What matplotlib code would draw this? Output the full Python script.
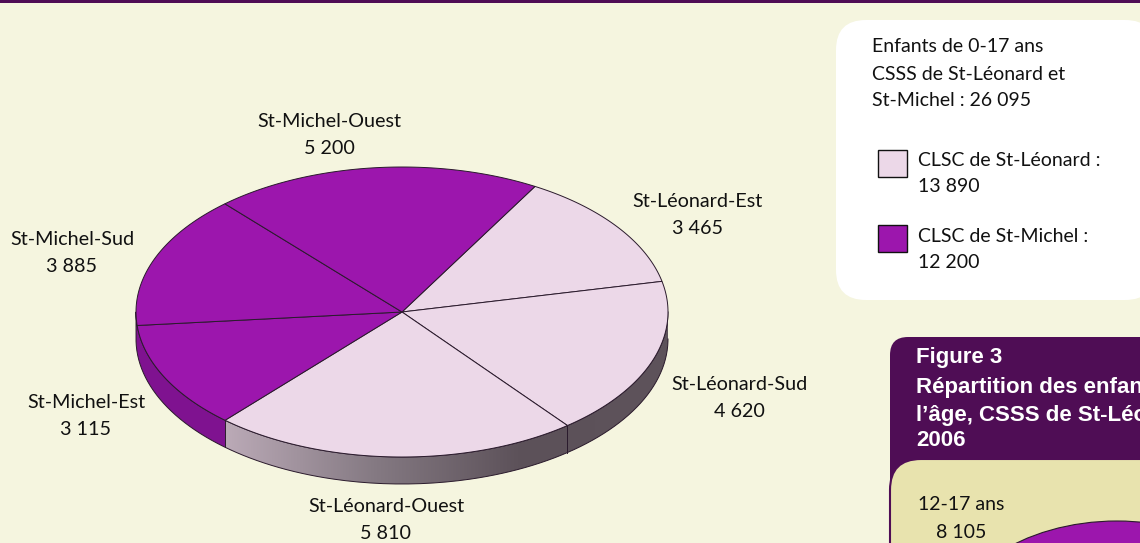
import numpy as np
import matplotlib
matplotlib.use("Agg")
import matplotlib.pyplot as plt
from matplotlib.patches import FancyBboxPatch, Polygon, Ellipse, Rectangle
from matplotlib.colors import LinearSegmentedColormap

names = ["St-Léonard-Est", "St-Léonard-Sud", "St-Léonard-Ouest",
         "St-Michel-Est", "St-Michel-Sud", "St-Michel-Ouest"]
values = [3465, 4620, 5810, 3115, 3885, 5200]
value_labels = ["3 465", "4 620", "5 810", "3 115", "3 885", "5 200"]
label_x = [697, 739, 386, 86, 72, 329]
label_y = [215, 398, 520, 416, 253, 135]
legend_lines = ["Enfants de 0-17 ans", "CSSS de St-Léonard et", "St-Michel : 26 095"]

LIGHT = "#ECD8E8"
PURPLE = "#9C16AD"
DARK = "#4F0D55"
BG = "#F5F5DF"
PANEL = "#E8E3AE"
EDGE = "#2A1A2C"
FS = 14.2

cx, cy, rx, ry, depth = 402, 312, 266, 145, 27
start = 30  # degrees clockwise from the top


def rim(a):
    a = np.radians(a)
    return cx + rx * np.sin(a), cy - ry * np.cos(a)


plt.rcParams["font.family"] = ["Lato", "DejaVu Sans"]
fig = plt.figure(figsize=(11.4, 5.43), dpi=100, facecolor=BG)
ax = fig.add_axes([0, 0, 1, 1])

ax.add_patch(Rectangle((0, 0), 1140, 2.5, fc=DARK, ec="none"))

# pie side, only the front half shows
edges = start + np.cumsum([0] + values) / sum(values) * 360
side = np.linspace(90, 270, 200)
xs, ys = rim(side)
side_poly = np.r_[np.c_[xs, ys], np.c_[xs[::-1], ys[::-1] + depth]]
grad = LinearSegmentedColormap.from_list("side", ["#BBAAB7", "#857A83", "#5C5159", "#5E535B"])
clip = Polygon(side_poly, closed=True, fc="none", ec="none")
ax.add_patch(clip)
im = ax.imshow(np.linspace(0, 1, 256)[None, :], cmap=grad, aspect="auto",
               extent=[rim(edges[3])[0], 670, 490, 280], zorder=1)
im.set_clip_path(clip)

# purple part of the side, St-Michel-Est
arc = np.linspace(edges[3], 270, 60)
xs, ys = rim(arc)
ax.add_patch(Polygon(np.r_[np.c_[xs, ys], np.c_[xs[::-1], ys[::-1] + depth]], closed=True,
                     fc="#7F1290", ec="none", zorder=2))

xs, ys = rim(side)
ax.plot(np.r_[xs, xs[::-1]], np.r_[ys, ys[::-1] + depth], color=EDGE, lw=0.7, zorder=3)
for a in [edges[2], edges[3]]:
    x, y = rim(a)
    ax.plot([x, x], [y, y + depth], color=EDGE, lw=0.7, zorder=3)

# pie top
for i in range(len(values)):
    arc = np.linspace(edges[i], edges[i + 1], 80)
    xs, ys = rim(arc)
    ax.add_patch(Polygon(np.r_[[[cx, cy]], np.c_[xs, ys]], closed=True,
                         fc=LIGHT if i < 3 else PURPLE, ec=EDGE, lw=0.7, zorder=4))

for n, v, x, y in zip(names, value_labels, label_x, label_y):
    ax.text(x, y, n + "\n" + v, ha="center", va="center", fontsize=FS, color="#111111",
            linespacing=1.65, zorder=5)

# legend box
ax.add_patch(FancyBboxPatch((866, 50), 259, 220, boxstyle="round,pad=30,rounding_size=30",
                            fc="white", ec="none", zorder=1))
for i, line in enumerate(legend_lines):
    ax.text(872, 47 + i * 27, line, va="center", fontsize=14, color="#111111")
ax.add_patch(Rectangle((878, 150), 29, 27, fc=LIGHT, ec="#111111", lw=1))
ax.add_patch(Rectangle((878, 225), 29, 27, fc=PURPLE, ec="#111111", lw=1))
ax.text(918, 161, "CLSC de St-Léonard :", va="center", fontsize=14, color="#111111")
ax.text(918, 187, "13 890", va="center", fontsize=14, color="#111111")
ax.text(918, 236, "CLSC de St-Michel :", va="center", fontsize=14, color="#111111")
ax.text(918, 263, "12 200", va="center", fontsize=14, color="#111111")

# figure 3 panel, cut off by the page edge
ax.add_patch(FancyBboxPatch((908, 355), 400, 300, boxstyle="round,pad=18,rounding_size=18",
                            fc=DARK, ec="none", zorder=1))
ax.add_patch(FancyBboxPatch((921, 490), 400, 200, boxstyle="round,pad=31,rounding_size=31",
                            fc=PANEL, ec=DARK, lw=1.5, zorder=2))
title_lines = ["Figure 3", "Répartition des enfants selon", "l’âge, CSSS de St-Léonard et St-Michel,", "2006"]
title_y = [358, 388, 415, 440]
for t, y in zip(title_lines, title_y):
    ax.text(916, y, t, va="center", fontsize=16, fontweight="bold", color="white",
            family=["Liberation Sans"], zorder=3)
ax.text(918, 504, "12-17 ans", va="center", fontsize=14, color="#111111", zorder=3)
ax.text(936, 532, "8 105", va="center", fontsize=14, color="#111111", zorder=3)
ax.add_patch(Ellipse((1117, 641), 348, 240, fc=PURPLE, ec=EDGE, lw=0.8, zorder=3))

ax.set_xlim(0, 1140)
ax.set_ylim(543, 0)
ax.axis("off")

fig.savefig("out.png", dpi=100, facecolor=BG)
